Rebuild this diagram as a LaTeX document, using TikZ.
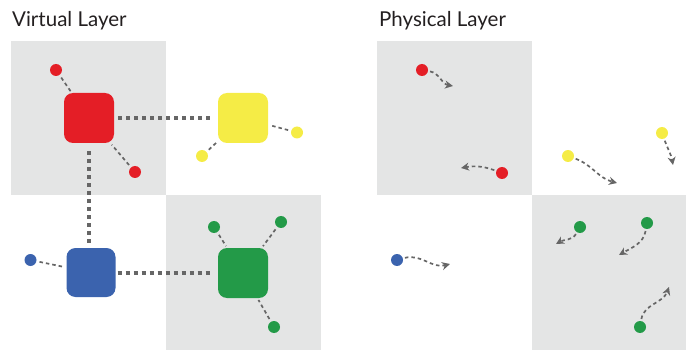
\documentclass[tikz,border=0pt]{standalone}
\usepackage{fontspec}
\setmainfont{Lato}
\usetikzlibrary{arrows.meta}
\definecolor{cred}{RGB}{228,30,38}
\definecolor{cyellow}{RGB}{245,236,70}
\definecolor{cblue}{RGB}{59,99,174}
\definecolor{cgreen}{RGB}{35,154,72}
\definecolor{cbox}{RGB}{228,229,229}
\definecolor{cline}{RGB}{102,102,102}
\definecolor{ctext}{RGB}{35,31,32}
\begin{document}
\begin{tikzpicture}[x=1pt,y=-1pt,
  region/.style={fill=cbox,draw=none},
  sq/.style={rounded corners=9pt,minimum size=50pt,inner sep=0pt,draw=none},
  dot/.style={circle,minimum size=12pt,inner sep=0pt,draw=none},
  thick link/.style={draw=cline,line width=4pt,dash pattern=on 4pt off 4pt},
  thin link/.style={draw=cline,line width=1.7pt,dash pattern=on 3.5pt off 3pt,shorten <=3pt,shorten >=2pt},
  move/.style={draw=cline,line width=1.7pt,dash pattern=on 3.5pt off 3pt,shorten <=2pt,
    -{Stealth[length=8pt,width=8pt,inset=2.5pt]}},
  title/.style={anchor=base west,font=\fontsize{20.5}{24}\selectfont,text=ctext,inner sep=0pt}
]
\useasboundingbox (0,0) rectangle (686,350);
% regions
\fill[region] (11,41) rectangle (166,195.5);
\fill[region] (166,195.5) rectangle (321,350);
\fill[region] (377,41) rectangle (532,195.5);
\fill[region] (532,195.5) rectangle (686,350);
% titles
\node[title] (t1) at (12,27) {Virtual Layer};
\node[title] (t2) at (379,27) {Physical Layer};
% virtual layer squares
\node[sq,fill=cred] (R) at (89,118) {};
\node[sq,fill=cyellow] (Y) at (243,118) {};
\node[sq,fill=cblue,minimum size=49pt] (B) at (91,272.5) {};
\node[sq,fill=cgreen] (G) at (243,273) {};
% virtual dots
\node[dot,fill=cred] (r1) at (56,70) {};
\node[dot,fill=cred] (r2) at (135,172) {};
\node[dot,fill=cyellow] (y1) at (202,156) {};
\node[dot,fill=cyellow] (y2) at (297,132.5) {};
\node[dot,fill=cblue] (b1) at (30.5,260) {};
\node[dot,fill=cgreen] (g1) at (214,227) {};
\node[dot,fill=cgreen] (g2) at (281,222) {};
\node[dot,fill=cgreen] (g3) at (274,327) {};
% thick links
\draw[thick link,shorten <=4pt,shorten >=6pt] (R.east) -- (Y.west);
\draw[thick link,shorten <=8pt,shorten >=5pt] (R.south) -- (B.north -| R.south);
\draw[thick link,shorten <=2pt,shorten >=7pt] (B.east |- G.west) -- (G.west);
% thin links
\draw[thin link] (r1) -- (R);
\draw[thin link] (r2) -- (R);
\draw[thin link] (y1) -- (Y);
\draw[thin link] (y2) -- (Y);
\draw[thin link] (b1) -- (B);
\draw[thin link] (g1) -- (G);
\draw[thin link] (g2) -- (G);
\draw[thin link] (g3) -- (G);
% physical dots
\node[dot,fill=cred] (pr1) at (422,70) {};
\node[dot,fill=cred] (pr2) at (502,173) {};
\node[dot,fill=cyellow] (py1) at (568,156) {};
\node[dot,fill=cyellow] (py2) at (662,133) {};
\node[dot,fill=cblue] (pb1) at (397,260) {};
\node[dot,fill=cgreen] (pg1) at (580,227) {};
\node[dot,fill=cgreen] (pg2) at (647,223) {};
\node[dot,fill=cgreen] (pg3) at (640,327) {};
% movement targets
\coordinate (er1) at (453,86);
\coordinate (er2) at (461,168);
\coordinate (ey1) at (617,183);
\coordinate (ey2) at (673,165);
\coordinate (eb1) at (450,264);
\coordinate (eg1) at (556,244);
\coordinate (eg2) at (619,255);
\coordinate (eg3) at (669,287);
% movement arrows
\draw[move] (pr1) to[out=-10,in=170] (er1);
\draw[move] (pr2) to[out=160,in=10] (er2);
\draw[move] (py1) to[out=-20,in=165] (ey1);
\draw[move] (py2) to[out=-70,in=100] (ey2);
\draw[move] (pb1) to[out=15,in=195] (eb1);
\draw[move] (pg1) to[out=-120,in=30] (eg1);
\draw[move] (pg2) to[out=-100,in=30] (eg2);
\draw[move] (pg3) to[out=80,in=250] (eg3);
\end{tikzpicture}
\end{document}
